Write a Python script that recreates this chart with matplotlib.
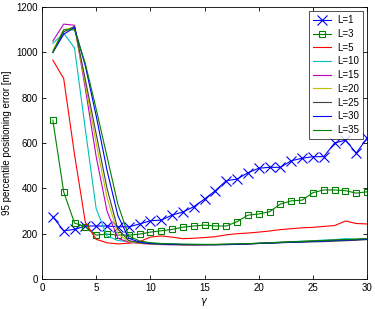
import matplotlib
matplotlib.use("Agg")
import matplotlib.pyplot as plt

gamma = list(range(1, 31))

L1 = [275, 213, 219, 234, 234, 234, 231, 230, 243, 257, 260, 282, 296, 319, 353,
      390, 434, 441, 469, 489, 493, 493, 522, 533, 540, 540, 600, 613, 556, 622]
L3 = [701, 385, 247, 231, 194, 198, 194, 194, 198, 207, 213, 219, 229, 234, 238,
      234, 234, 253, 282, 287, 297, 331, 345, 348, 381, 393, 393, 390, 379, 385]
L5 = [966, 885, 550, 250, 175, 160, 155, 158, 165, 185, 190, 185, 178, 180, 183,
      187, 195, 200, 203, 207, 212, 218, 222, 226, 228, 232, 236, 256, 245, 243]
L10 = [1040, 1085, 1020, 660, 310, 190, 170, 165, 160, 158, 156, 155, 153, 153, 152,
       152, 153, 154, 156, 158, 160, 163, 165, 167, 169, 172, 174, 178, 176, 178]
L15 = [1050, 1125, 1120, 840, 540, 300, 180, 162, 157, 154, 152, 151, 150, 150, 151,
       152, 153, 154, 155, 157, 159, 161, 163, 165, 167, 169, 171, 172, 174, 176]
L20 = [1010, 1100, 1110, 860, 600, 360, 200, 165, 158, 155, 153, 152, 151, 151, 152,
       152, 153, 155, 156, 158, 160, 162, 164, 166, 168, 170, 171, 173, 175, 177]
L25 = [1000, 1090, 1115, 880, 640, 400, 220, 170, 160, 156, 154, 153, 152, 151, 151,
       151, 152, 153, 155, 157, 158, 160, 162, 163, 164, 165, 167, 169, 171, 174]
L30 = [1000, 1080, 1110, 940, 720, 480, 280, 180, 163, 157, 155, 153, 152, 152, 152,
       152, 152, 153, 155, 157, 159, 161, 163, 164, 166, 168, 170, 172, 174, 176]
L35 = [1000, 1100, 1100, 950, 750, 540, 330, 190, 168, 160, 157, 155, 154, 153, 153,
       153, 154, 155, 156, 158, 160, 162, 164, 166, 168, 170, 172, 174, 176, 178]

labels = ["L=1", "L=3", "L=5", "L=10", "L=15", "L=20", "L=25", "L=30", "L=35"]
series = [L1, L3, L5, L10, L15, L20, L25, L30, L35]
colors = [(0, 0, 1), (0, 0.5, 0), (1, 0, 0), (0, 0.75, 0.75), (0.75, 0, 0.75),
          (0.75, 0.75, 0), (0.25, 0.25, 0.25), (0, 0, 1), (0, 0.5, 0)]
markers = ["x", "s", None, None, None, None, None, None, None]

plt.rcParams['font.family'] = ['Liberation Sans', 'DejaVu Sans']
fig = plt.figure(figsize=(3.75, 3.09), dpi=100)
ax = fig.add_axes([0.112, 0.097, 0.867, 0.88])

for y, lab, c, m in zip(series, labels, colors, markers):
    if m == "x":
        ax.plot(gamma, y, color=c, lw=0.8, marker="x", ms=7, mew=0.8, label=lab)
    elif m == "s":
        ax.plot(gamma, y, color=c, lw=0.8, marker="s", ms=5, mew=0.8,
                mfc="none", label=lab)
    else:
        ax.plot(gamma, y, color=c, lw=0.8, label=lab)

ax.set_xlim(0, 30)
ax.set_ylim(0, 1200)
ax.set_xticks([0, 5, 10, 15, 20, 25, 30])
ax.set_yticks([0, 200, 400, 600, 800, 1000, 1200])
ax.tick_params(direction="in", top=True, right=True, labelsize=7, length=3,
               width=0.6, pad=3)
for s in ax.spines.values():
    s.set_linewidth(0.6)
ax.set_xlabel(r"$\gamma$", fontsize=7, labelpad=2)
ax.set_ylabel("95 percentile positioning error [m]", fontsize=7, labelpad=3)

leg = ax.legend(loc="upper right", fontsize=7, frameon=True, fancybox=False,
                edgecolor="black", borderaxespad=0.45, labelspacing=0.38,
                handlelength=1.9, handletextpad=0.6, borderpad=0.4)
leg.get_frame().set_linewidth(0.6)

fig.savefig("out.png", dpi=100)
